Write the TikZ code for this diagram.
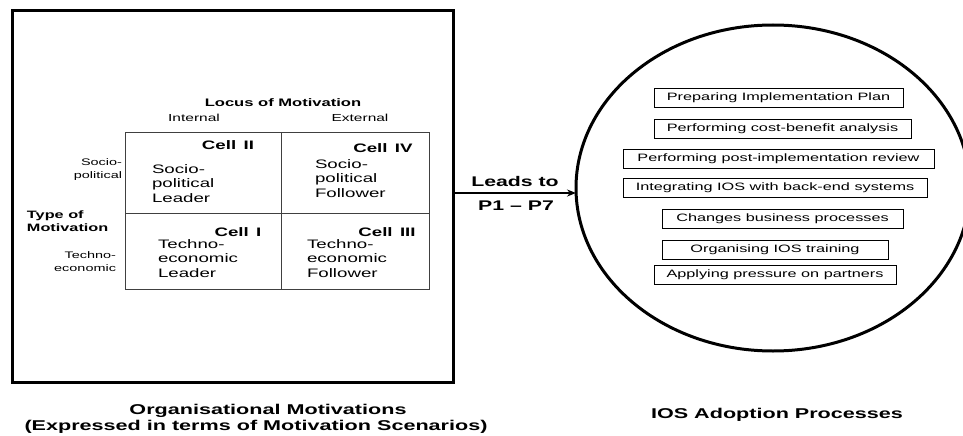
\documentclass[tikz,border=0pt]{standalone}
\usepackage{fontspec}
\setmainfont{Liberation Sans}[FakeStretch=1.52]
\usetikzlibrary{arrows.meta,shapes.geometric}
\begin{document}
\begin{tikzpicture}[x=1pt,y=-1pt,
  every node/.style={inner sep=0pt,outer sep=0pt},
  celltxt/.style={align=left,font=\fontsize{12.3}{14.5}\selectfont},
  celltitle/.style={font=\fontsize{12.3}{14.5}\selectfont\bfseries},
  rowlab/.style={align=right,font=\fontsize{9.5}{13}\selectfont},
  collab/.style={font=\fontsize{10.2}{12}\selectfont},
  proc/.style={draw,line width=0.8pt,minimum height=19pt,font=\fontsize{10.7}{12}\selectfont},
  bigbold/.style={font=\fontsize{14.2}{16}\selectfont\bfseries},
  gridline/.style={draw=black!75,line width=0.9pt}]
\useasboundingbox (0,0) rectangle (963,436);
% outer box
\node[draw,line width=3pt,minimum width=441pt,minimum height=371pt] (orgbox) at (232.5,196.5) {};
% IOS ellipse
\node[draw,ellipse,line width=3pt,minimum width=394pt,minimum height=326pt] (ios) at (773,188) {};
% grid
\coordinate (g1) at (125,132);
\coordinate (g2) at (429,289);
\draw[gridline] (g1) rectangle (g2);
\draw[gridline] (281,132) -- (281,289);
\draw[gridline] (125,213) -- (429,213);
% column and row labels
\node[font=\fontsize{10.9}{12}\selectfont\bfseries] (locus) at (283,103) {Locus of Motivation};
\node[collab] (internal) at (194,118) {Internal};
\node[collab] (external) at (360,118) {External};
\node[rowlab,anchor=east] (socrow) at (122,169.5) {Socio-\\political};
\node[rowlab,anchor=east] (techrow) at (116,261.5) {Techno-\\economic};
\node[align=left,anchor=west,font=\fontsize{10.7}{13}\selectfont\bfseries] (type) at (27,221.5) {Type of\\Motivation};
% cells
\node[celltitle] (c2) at (228,145) {Cell\hspace{0.6em}II};
\node[celltxt,anchor=west] (c2t) at (152,183.5) {Socio-\\political\\Leader};
\node[celltitle] (c4) at (383,148) {Cell\hspace{0.6em}IV};
\node[celltxt,anchor=west] (c4t) at (315,178.5) {Socio-\\political\\Follower};
\node[celltitle] (c1) at (238,232) {Cell\hspace{0.6em}I};
\node[celltxt,anchor=west] (c1t) at (158,258.5) {Techno-\\economic\\Leader};
\node[celltitle] (c3) at (387,232) {Cell\hspace{0.6em}III};
\node[celltxt,anchor=west] (c3t) at (307,258.5) {Techno-\\economic\\Follower};
% arrow
\coordinate (ay) at (0,193);
\draw[line width=1.6pt,-{Stealth[length=9pt,width=7pt]}] (orgbox.east |- ay) -- (ios.west |- ay);
\node[font=\fontsize{14}{16}\selectfont\bfseries] (leads) at (515,181) {Leads to};
\node[font=\fontsize{14}{16}\selectfont\bfseries] (pp) at (516,206) {P1 -- P7};
% process boxes
\node[proc,minimum width=249pt] (p1) at (778.5,97.5) {Preparing Implementation Plan};
\node[proc,minimum width=257pt] (p2) at (782.5,128.5) {Performing cost-benefit analysis};
\node[proc,minimum width=311pt] (p3) at (778.5,158.5) {Performing post-implementation review};
\node[proc,minimum width=304pt] (p4) at (775,188) {Integrating IOS with back-end systems};
\node[proc,minimum width=241pt] (p5) at (782.5,219) {Changes business processes};
\node[proc,minimum width=226pt] (p6) at (775,249.5) {Organising IOS training};
\node[proc,minimum width=242pt] (p7) at (775,275) {Applying pressure on partners};
% captions
\node[bigbold] (cap1) at (268,411) {Organisational Motivations};
\node[bigbold] (cap2) at (256,427) {(Expressed in terms of Motivation Scenarios)};
\node[bigbold] (cap3) at (777,415) {IOS Adoption Processes};
\end{tikzpicture}
\end{document}
